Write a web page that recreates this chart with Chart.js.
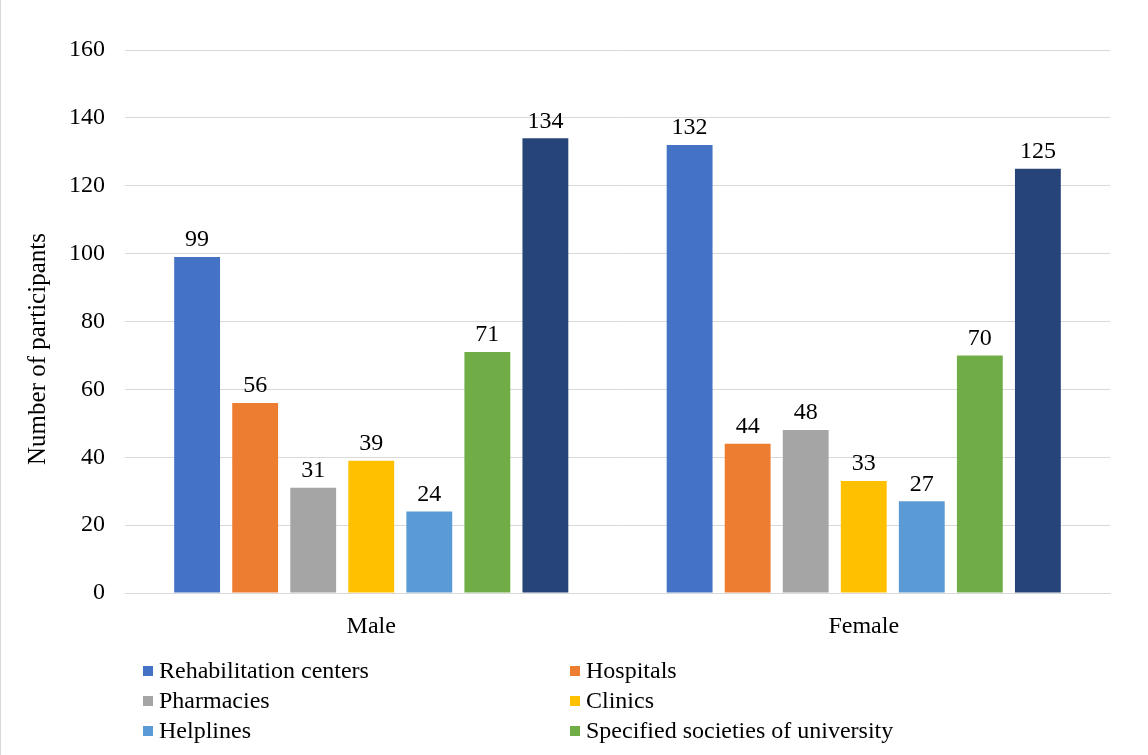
<!DOCTYPE html>
<html>
<head>
<meta charset="utf-8">
<script src="https://cdn.jsdelivr.net/npm/chart.js@4"></script>
<style>
  html, body { margin: 0; padding: 0; background: #fff; overflow: hidden; }
  #wrap { width: 1148px; height: 755px; position: relative; border-left: 1px solid #d9d9d9; box-sizing: border-box; }
</style>
</head>
<body>
<div id="wrap"><canvas id="grafico" width="1147" height="755"></canvas></div>
<script>
// categorias e séries
const CATEGORIAS = ['Male', 'Female'];
const SERIES = ['Rehabilitation centers', 'Hospitals', 'Pharmacies', 'Clinics', 'Helplines', 'Specified societies of university', 'Others'];
const REABILITACAO = [99, 132];
const HOSPITAIS = [56, 44];
const FARMACIAS = [31, 48];
const CLINICAS = [39, 33];
const LINHAS_AJUDA = [24, 27];
const SOCIEDADES = [71, 70];
const OUTROS = [134, 125];
const CORES = ['#4472C4', '#ED7D31', '#A5A5A5', '#FFC000', '#5B9BD5', '#70AD47', '#264478'];
const LEGENDA_VISIVEL = 6; // a última entrada fica fora da imagem
const TITULO_Y = 'Number of participants';

const FONTE = "'Liberation Serif', 'Times New Roman', serif";
const valores = [REABILITACAO, HOSPITAIS, FARMACIAS, CLINICAS, LINHAS_AJUDA, SOCIEDADES, OUTROS];

// rótulos de valor acima das barras
const rotulos = {
    id: 'rotulos',
    afterDatasetsDraw(chart) {
        const ctx = chart.ctx;
        ctx.save();
        ctx.font = '24px ' + FONTE;
        ctx.fillStyle = '#000';
        ctx.textAlign = 'center';
        ctx.textBaseline = 'bottom';
        chart.data.datasets.forEach((ds, i) => {
            chart.getDatasetMeta(i).data.forEach((bar, j) => {
                ctx.fillText(ds.data[j], bar.x, bar.y - 5);
            });
        });
        ctx.restore();
    }
};

// título do eixo y e legenda em duas colunas
const legenda = {
    id: 'legenda',
    afterDraw(chart) {
        const ctx = chart.ctx;
        ctx.save();
        ctx.fillStyle = '#000';
        ctx.font = '25px ' + FONTE;
        ctx.textAlign = 'center';
        ctx.textBaseline = 'middle';
        ctx.translate(37, 349);
        ctx.rotate(-Math.PI / 2);
        ctx.fillText(TITULO_Y, 0, 0);
        ctx.restore();

        ctx.save();
        ctx.font = '24px ' + FONTE;
        ctx.textBaseline = 'middle';
        ctx.textAlign = 'left';
        const colunas = [142, 569];
        const linhas = [671, 701, 731, 761];
        chart.data.datasets.slice(0, LEGENDA_VISIVEL).forEach((ds, i) => {
            const x = colunas[i % 2];
            const y = linhas[Math.floor(i / 2)];
            ctx.fillStyle = ds.backgroundColor;
            ctx.fillRect(x, y - 5, 10, 10);
            ctx.fillStyle = '#000';
            ctx.fillText(ds.label, x + 16, y + 1);
        });
        ctx.restore();
    }
};

new Chart(document.getElementById('grafico'), {
    type: 'bar',
    data: {
        labels: CATEGORIAS,
        datasets: SERIES.map((nome, i) => ({
            label: nome,
            data: valores[i],
            backgroundColor: CORES[i],
            borderWidth: 0,
            barPercentage: 0.79,
            categoryPercentage: 0.825
        }))
    },
    options: {
        responsive: false,
        animation: false,
        layout: { padding: { left: 0, top: 50, right: 38, bottom: 112 } },
        plugins: {
            legend: { display: false },
            tooltip: { enabled: false }
        },
        scales: {
            x: {
                grid: { display: false, drawTicks: false },
                border: { color: '#d9d9d9', width: 1 },
                ticks: { color: '#000', padding: 19, font: { family: FONTE, size: 24 } },
                afterFit: (s) => { s.height = 50; }
            },
            y: {
                min: 0,
                max: 160,
                ticks: { stepSize: 20, color: '#000', padding: 20, font: { family: FONTE, size: 24 } },
                grid: { color: '#d9d9d9', drawTicks: false },
                border: { display: false },
                afterFit: (s) => { s.width = 124; }
            }
        }
    },
    plugins: [rotulos, legenda]
});
</script>
</body>
</html>
